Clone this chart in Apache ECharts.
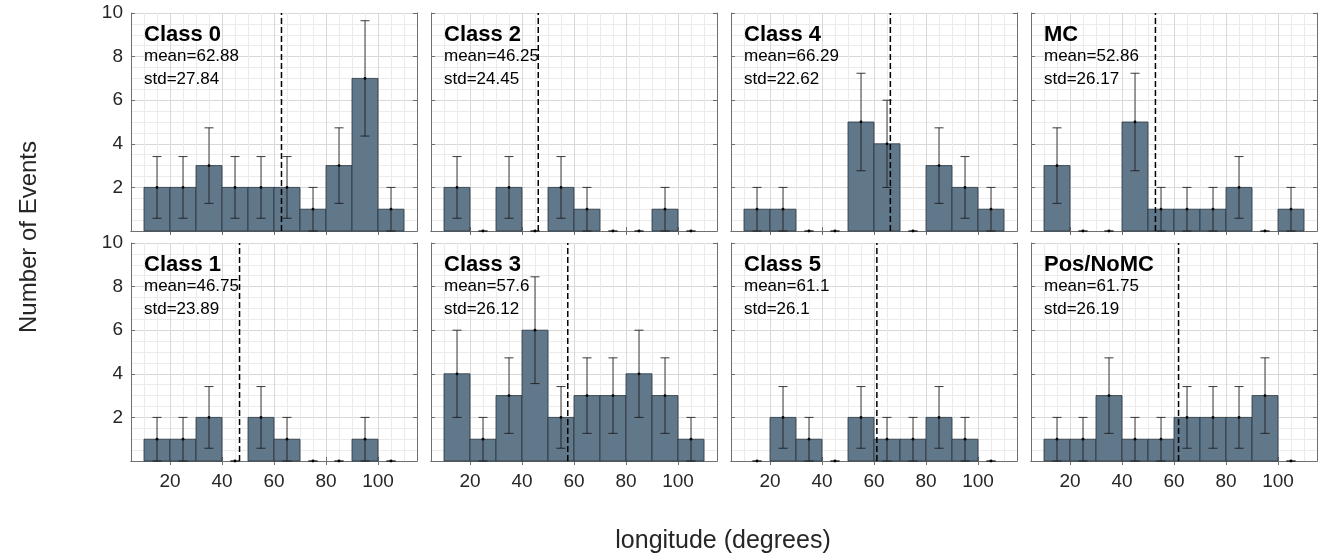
<!DOCTYPE html>
<html>
<head>
<meta charset="utf-8">
<script src="https://cdn.jsdelivr.net/npm/echarts@6/dist/echarts.min.js"></script>
<style>
  html, body { margin: 0; padding: 0; background: #fff; }
  #chart { width: 1327px; height: 558px; }
</style>
</head>
<body>
<div id="chart"></div>
<script>
// Histogram bin edges (degrees of longitude)
const BIN_EDGES = [10, 20, 30, 40, 50, 60, 70, 80, 90, 100, 110];

// Event counts per bin for each class
const class0Counts = [2, 2, 3, 2, 2, 2, 1, 3, 7, 1];
const class2Counts = [2, 0, 2, 0, 2, 1, 0, 0, 1, 0];
const class4Counts = [1, 1, 0, 0, 5, 4, 0, 3, 2, 1];
const mcCounts     = [3, 0, 0, 5, 1, 1, 1, 2, 0, 1];
const class1Counts = [1, 1, 2, 0, 2, 1, 0, 0, 1, 0];
const class3Counts = [4, 1, 3, 6, 2, 3, 3, 4, 3, 1];
const class5Counts = [0, 2, 1, 0, 2, 1, 1, 2, 1, 0];
const posNoMcCounts = [1, 1, 3, 1, 1, 2, 2, 2, 3, 0];

// Panel titles and summary statistics (row-major order)
const PANEL_NAMES = ['Class 0', 'Class 2', 'Class 4', 'MC', 'Class 1', 'Class 3', 'Class 5', 'Pos/NoMC'];
const PANEL_COUNTS = [class0Counts, class2Counts, class4Counts, mcCounts, class1Counts, class3Counts, class5Counts, posNoMcCounts];
const MEANS = [62.88, 46.25, 66.29, 52.86, 46.75, 57.6, 61.1, 61.75];
const STDS  = [27.84, 24.45, 22.62, 26.17, 23.89, 26.12, 26.1, 26.19];

// Tick labels
const X_TICKS = [20, 40, 60, 80, 100];
const Y_TICKS = [2, 4, 6, 8, 10];

// ---- layout & style ----
const FONT = '"Liberation Sans", Arial, Helvetica, sans-serif';
const GRID_LEFTS = [131, 431, 731, 1031];
const GRID_TOPS = [13, 243];
const GRID_W = 286, GRID_H = 218;
const X_MIN = 5, X_MAX = 115, Y_MIN = 0, Y_MAX = 10;
const BOX = '#6f6f6f';
const TXT = '#262626';
const GRID_MAJOR = '#d8d8d8';
const GRID_MINOR = '#ebebeb';
const BAR_FILL = '#61778a';
const BAR_EDGE = '#26333d';

const grids = [], xAxes = [], yAxes = [], series = [], graphics = [];

function isTick(v, list) {
  const r = Math.round(v);
  return Math.abs(v - r) < 1e-6 && list.indexOf(r) >= 0;
}

PANEL_NAMES.forEach((name, i) => {
  const row = Math.floor(i / 4), col = i % 4;
  const left = GRID_LEFTS[col], top = GRID_TOPS[row];
  grids.push({ left: left, top: top, width: GRID_W, height: GRID_H });

  // x axis carrying the grid lines (every 5 degrees) and bottom labels
  xAxes.push({
    gridIndex: i, type: 'value', position: 'bottom', min: X_MIN, max: X_MAX, interval: 5,
    axisLine: { show: true, lineStyle: { color: BOX, width: 1 } },
    axisTick: { show: false },
    axisLabel: {
      show: row === 1, margin: 11, fontSize: 19, color: TXT, fontFamily: FONT,
      formatter: v => isTick(v, X_TICKS) ? String(Math.round(v)) : ''
    },
    splitLine: { show: true, lineStyle: { color: [GRID_MINOR, GRID_MINOR, GRID_MINOR, GRID_MAJOR], width: 1 } }
  });
  // top edge of the box with inward ticks
  xAxes.push({
    gridIndex: i, type: 'value', position: 'top', min: X_MIN, max: X_MAX,
    axisLine: { show: true, lineStyle: { color: BOX, width: 1 } },
    axisTick: { show: true, inside: true, length: 4, customValues: X_TICKS, lineStyle: { color: BOX } },
    axisLabel: { show: false },
    splitLine: { show: false }
  });
  // inward ticks on the bottom edge
  xAxes.push({
    gridIndex: i, type: 'value', position: 'bottom', min: X_MIN, max: X_MAX,
    axisLine: { show: false },
    axisTick: { show: true, inside: true, length: 4, customValues: X_TICKS, lineStyle: { color: BOX } },
    axisLabel: { show: false },
    splitLine: { show: false }
  });

  yAxes.push({
    gridIndex: i, type: 'value', position: 'left', min: Y_MIN, max: Y_MAX, interval: 2,
    axisLine: { show: true, lineStyle: { color: BOX, width: 1 } },
    axisTick: { show: true, inside: true, length: 4, lineStyle: { color: BOX } },
    axisLabel: {
      show: col === 0, margin: 8, fontSize: 19, color: TXT, fontFamily: FONT,
      formatter: v => isTick(v, Y_TICKS) ? String(Math.round(v)) : ''
    },
    splitLine: { show: true, lineStyle: { color: GRID_MAJOR, width: 1 } },
    minorTick: { show: false, splitNumber: 4 },
    minorSplitLine: { show: true, lineStyle: { color: GRID_MINOR, width: 1 } }
  });
  yAxes.push({
    gridIndex: i, type: 'value', position: 'right', min: Y_MIN, max: Y_MAX, interval: 2,
    axisLine: { show: true, lineStyle: { color: BOX, width: 1 } },
    axisTick: { show: true, inside: true, length: 4, lineStyle: { color: BOX } },
    axisLabel: { show: false },
    splitLine: { show: false }
  });

  const counts = PANEL_COUNTS[i];
  const xIdx = i * 3, yIdx = i * 2;

  // histogram bars
  series.push({
    type: 'custom', xAxisIndex: xIdx, yAxisIndex: yIdx, z: 2, silent: true,
    encode: { x: [0, 1], y: 2 },
    data: counts.map((n, k) => [BIN_EDGES[k], BIN_EDGES[k + 1], n]),
    renderItem: (params, api) => {
      const n = api.value(2);
      if (!n) return null;
      const p0 = api.coord([api.value(0), n]);
      const p1 = api.coord([api.value(1), 0]);
      return {
        type: 'rect',
        shape: { x: p0[0], y: p0[1], width: p1[0] - p0[0], height: p1[1] - p0[1] },
        style: { fill: BAR_FILL, stroke: BAR_EDGE, lineWidth: 0.8 }
      };
    }
  });

  // Poisson error bars (sqrt N) with caps and a centre dot
  series.push({
    type: 'custom', xAxisIndex: xIdx, yAxisIndex: yIdx, z: 3, silent: true,
    encode: { x: 0, y: 1 },
    data: counts.map((n, k) => [(BIN_EDGES[k] + BIN_EDGES[k + 1]) / 2, n]),
    renderItem: (params, api) => {
      const xc = api.value(0), n = api.value(1);
      const err = Math.sqrt(n);
      const pHi = api.coord([xc, n + err]);
      const pLo = api.coord([xc, n - err]);
      const pC = api.coord([xc, n]);
      const cap = 4.5;
      const ls = { stroke: '#1a1a1a', lineWidth: 1, opacity: 0.85 };
      return {
        type: 'group',
        children: [
          { type: 'line', shape: { x1: pHi[0], y1: pHi[1], x2: pLo[0], y2: pLo[1] }, style: ls },
          { type: 'line', shape: { x1: pHi[0] - cap, y1: pHi[1], x2: pHi[0] + cap, y2: pHi[1] }, style: ls },
          { type: 'line', shape: { x1: pLo[0] - cap, y1: pLo[1], x2: pLo[0] + cap, y2: pLo[1] }, style: ls },
          { type: 'circle', shape: { cx: pC[0], cy: pC[1], r: 1.4 }, style: { fill: '#000' } }
        ]
      };
    }
  });

  // dashed mean line
  series.push({
    type: 'custom', xAxisIndex: xIdx, yAxisIndex: yIdx, z: 4, silent: true,
    encode: { x: 0, y: 1 },
    data: [[MEANS[i], 0]],
    renderItem: (params, api) => {
      const pB = api.coord([api.value(0), Y_MIN]);
      const pT = api.coord([api.value(0), Y_MAX]);
      return {
        type: 'line',
        shape: { x1: pB[0], y1: pB[1], x2: pT[0], y2: pT[1] },
        style: { stroke: '#000', lineWidth: 1.5, lineDash: [6, 3] }
      };
    }
  });

  graphics.push({
    type: 'text', left: left + 13, top: top + 11, z: 10,
    style: { text: name, font: 'bold 22px ' + FONT, fill: '#000' }
  });
  graphics.push({
    type: 'text', left: left + 13, top: top + 32, z: 10,
    style: { text: 'mean=' + MEANS[i] + '\nstd=' + STDS[i], font: '17px ' + FONT, fill: '#000', lineHeight: 23 }
  });
});

graphics.push({
  type: 'text', x: 29, y: 237, rotation: Math.PI / 2, z: 10,
  style: { text: 'Number of Events', font: '24px ' + FONT, fill: TXT, align: 'center', verticalAlign: 'middle' }
});
graphics.push({
  type: 'text', x: 723, y: 541, z: 10,
  style: { text: 'longitude (degrees)', font: '25px ' + FONT, fill: TXT, align: 'center', verticalAlign: 'middle' }
});

const chart = echarts.init(document.getElementById('chart'), null, { renderer: 'canvas' });
chart.setOption({
  backgroundColor: '#fff',
  animation: false,
  grid: grids,
  xAxis: xAxes,
  yAxis: yAxes,
  series: series,
  graphic: graphics
});
</script>
</body>
</html>
